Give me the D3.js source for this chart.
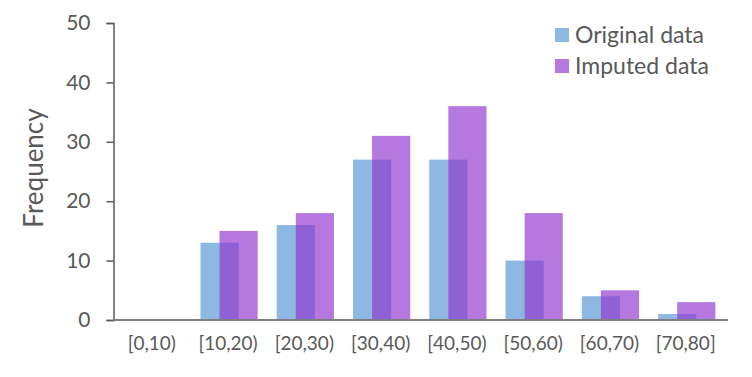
<!DOCTYPE html>
<html><head><meta charset="utf-8">
<script src="https://cdn.jsdelivr.net/npm/d3@7"></script>
<style>body{margin:0;background:#fff}svg{display:block}text{font-family:Lato,"Open Sans",sans-serif;fill:#595959}</style>
</head><body>
<script>
const categories = ["[0,10)","[10,20)","[20,30)","[30,40)","[40,50)","[50,60)","[60,70)","[70,80]"];
const originalData = [0,13,16,27,27,10,4,1];
const imputedData = [0,15,18,31,36,18,5,3];
const yTicks = [0,10,20,30,40,50];
const seriesNames = ["Original data","Imputed data"];

const W=752,H=377;
const svg=d3.select("body").append("svg").attr("width",W).attr("height",H);
const x0=113.5, x1=726, yTop=23, yBot=320;
const x=d3.scaleBand().domain(categories).range([x0,x1]).paddingInner(0.25).paddingOuter(0.14);
const y=d3.scaleLinear().domain([0,50]).range([yBot,yTop]);
const bw=x.bandwidth()/1.5;
const blue="#8DB8E2", purple="rgb(145,56,207)", pOp=0.68;

svg.append("g").selectAll("rect").data(originalData).join("rect")
 .attr("x",(d,i)=>x(categories[i])).attr("width",bw)
 .attr("y",d=>y(d)).attr("height",d=>yBot-y(d)).attr("fill",blue);
svg.append("g").selectAll("rect").data(imputedData).join("rect")
 .attr("x",(d,i)=>x(categories[i])+bw/2).attr("width",bw)
 .attr("y",d=>y(d)).attr("height",d=>yBot-y(d)).attr("fill",purple).attr("fill-opacity",pOp);

const ya=svg.append("g").attr("transform",`translate(${x0},0)`).call(d3.axisLeft(y).tickValues(yTicks).tickSize(7).tickPadding(16));
ya.select(".domain").attr("stroke","#595959").attr("stroke-width",1.5);
ya.selectAll(".tick line").attr("stroke","#595959").attr("stroke-width",1.5);
ya.selectAll(".tick text").style("font-size","21px").attr("fill","#595959").style("font-family","Lato");

svg.append("line").attr("x1",x0).attr("x2",x1+2).attr("y1",yBot).attr("y2",yBot).attr("stroke","#7f7f7f").attr("stroke-width",2);

svg.append("g").selectAll("text").data(categories).join("text")
 .attr("x",d=>x(d)+x.bandwidth()/2-1).attr("y",350).attr("text-anchor","middle")
 .style("font-size","19px").text(d=>d);

svg.append("text").attr("transform","translate(43,168) rotate(-90)").attr("text-anchor","middle")
 .style("font-size","26px").text("Frequency");

const lg=svg.append("g");
seriesNames.forEach((n,i)=>{
  const yy=35+i*31;
  lg.append("rect").attr("x",555).attr("y",yy-7).attr("width",14).attr("height",14)
    .attr("fill",i==0?blue:purple).attr("fill-opacity",i==0?1:pOp);
  lg.append("text").attr("x",575).attr("y",yy+7.5).style("font-size","23px").text(n);
});
</script>
</body></html>
